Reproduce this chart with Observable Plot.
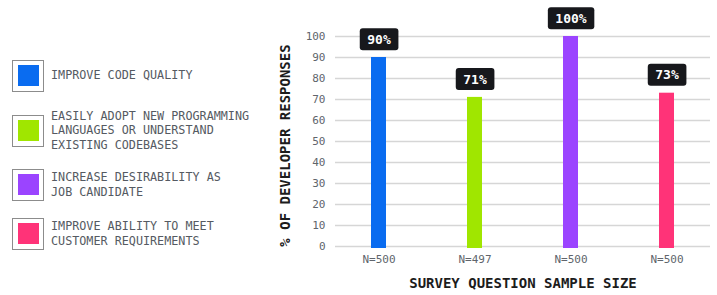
<!DOCTYPE html>
<html><head><meta charset="utf-8">
<script src="https://cdn.jsdelivr.net/npm/d3@7"></script>
<script src="https://cdn.jsdelivr.net/npm/@observablehq/plot@0.6"></script>
<style>
body{margin:0;background:#fff;}
#wrap{position:relative;width:717px;height:295px;overflow:hidden;}
#legend{position:absolute;left:0;top:0;width:280px;height:295px;}
.item{position:absolute;left:12px;display:flex;align-items:center;}
.sw{width:30px;height:30px;border:1.5px solid #8c8c8c;display:flex;align-items:center;justify-content:center;background:#fff;flex:none;}
.sw span{width:21px;height:21px;display:block;}
.lab{margin-left:7px;font-family:"DejaVu Sans Mono",monospace;font-size:11.75px;color:#555a62;line-height:14.2px;white-space:nowrap;}
#chart{position:absolute;left:0;top:0;}
</style>
</head><body>
<div id="wrap"><div id="chart"></div><div id="legend"></div></div>
<script>
const categories = ["Improve code quality", "Easily adopt new languages", "Increase desirability", "Meet customer requirements"];
const values = [90, 71, 100, 73];
const sampleSizes = [500, 497, 500, 500];
const colors = ["#0a6cf0", "#a0e600", "#9b44ff", "#ff3378"];
const legendLines = [
  ["IMPROVE CODE QUALITY"],
  ["EASILY ADOPT NEW PROGRAMMING", "LANGUAGES OR UNDERSTAND", "EXISTING CODEBASES"],
  ["INCREASE DESIRABILITY AS", "JOB CANDIDATE"],
  ["IMPROVE ABILITY TO MEET", "CUSTOMER REQUIREMENTS"]
];
const yTicks = [0, 10, 20, 30, 40, 50, 60, 70, 80, 90, 100];
const yTitle = "% OF DEVELOPER RESPONSES";
const xTitle = "SURVEY QUESTION SAMPLE SIZE";

const data = categories.map((c, i) => ({cat: c, value: values[i], n: sampleSizes[i], color: colors[i]}));

const chart = Plot.plot({
  width: 717, height: 295,
  marginLeft: 335, marginRight: 7, marginTop: 36, marginBottom: 49,
  style: {fontFamily: "DejaVu Sans Mono, monospace", background: "transparent", overflow: "visible"},
  x: {domain: categories, paddingInner: 0.84, paddingOuter: 0.373, align: 0.5},
  y: {domain: [0, 100]},
  color: {type: "identity"},
  marks: [
    Plot.gridY(yTicks, {stroke: "#d6d6d6", strokeOpacity: 1, strokeWidth: 1.5}),
    Plot.axisY(yTicks, {tickSize: 0, tickPadding: 10, fontSize: 11, fill: "#60656c", label: null}),
    Plot.axisX({tickSize: 0, tickPadding: 9, fontSize: 11, fill: "#60656c", label: null,
      tickFormat: d => "N=" + sampleSizes[categories.indexOf(d)]}),
    Plot.barY(data, {x: "cat", y: "value", fill: "color", insetBottom: -2}),
    Plot.text(data, {x: "cat", y: "value", text: d => d.value + "%", dy: -18, fill: "white",
      fontWeight: "bold", fontSize: 13}),
    Plot.text([yTitle], {frameAnchor: "left", textAnchor: "middle", rotate: -90, dx: -50, dy: 4, fontSize: 14,
      fontWeight: "bold", fill: "#1c1c1c"}),
    Plot.text([xTitle], {frameAnchor: "bottom", dy: 41, fontSize: 14, fontWeight: "bold", fill: "#1c1c1c"})
  ]
});
document.getElementById("chart").appendChild(chart);

// dark rounded boxes behind value labels
d3.select(chart).selectAll("text").filter(function() {
  return /^\d+%$/.test(this.textContent.trim());
}).each(function() {
  const b = this.getBBox();
  const cy = b.y + b.height / 2;
  const r = document.createElementNS("http://www.w3.org/2000/svg", "rect");
  r.setAttribute("x", b.x - 7.5);
  r.setAttribute("y", cy - 11);
  r.setAttribute("width", b.width + 15);
  r.setAttribute("height", 22);
  r.setAttribute("rx", 3);
  r.setAttribute("fill", "#17181c");
  const t = this.getAttribute("transform");
  if (t) r.setAttribute("transform", t);
  this.parentNode.insertBefore(r, this);
});

// legend
const itemTops = [59, 114, 168, 217];
const legend = d3.select("#legend");
legendLines.forEach((lines, i) => {
  const it = legend.append("div").attr("class", "item").style("top", itemTops[i] + "px").style("height", "33px");
  it.append("div").attr("class", "sw").append("span").style("background", colors[i]);
  const lab = it.append("div").attr("class", "lab");
  lines.forEach(l => lab.append("div").text(l));
});
</script>
</body></html>
